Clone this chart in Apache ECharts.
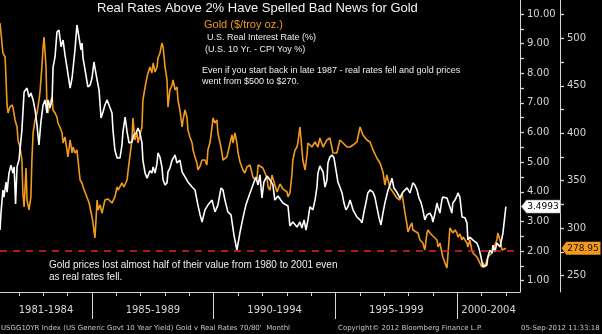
<!DOCTYPE html>
<html><head><meta charset="utf-8">
<script src="https://cdn.jsdelivr.net/npm/echarts@6/dist/echarts.min.js"></script>
<style>html,body{margin:0;padding:0;background:#000}#c{width:602px;height:334px}</style>
</head><body><div id="c"></div>
<script>
// ---- data (decimal year, value) ----
const rateData = [
[1981.22,2.71],[1981.26,3.28],[1981.34,4.06],[1981.38,3.82],[1981.47,4.33],[1981.51,3.99],[1981.59,4.63],[1981.67,4.90],[1981.75,4.63],[1981.80,4.84],[1981.86,3.59],[1981.92,4.84],[1982.00,5.07],[1982.12,6.09],[1982.21,7.37],[1982.33,7.50],[1982.41,7.20],[1982.49,7.33],[1982.58,7.10],[1982.66,6.76],[1982.74,6.25],[1982.82,5.58],[1982.90,6.35],[1982.99,6.93],[1983.07,7.10],[1983.15,6.66],[1983.19,7.10],[1983.27,6.83],[1983.36,7.10],[1983.40,8.21],[1983.48,8.55],[1983.56,9.39],[1983.64,9.46],[1983.73,8.89],[1983.81,9.12],[1983.89,8.62],[1983.97,8.21],[1984.05,7.77],[1984.10,7.50],[1984.18,7.84],[1984.30,8.79],[1984.38,9.63],[1984.46,9.63],[1984.55,8.79],[1984.59,9.02],[1984.63,8.52],[1984.75,7.94],[1984.83,7.54],[1984.92,7.60],[1985.00,7.84],[1985.08,8.38],[1985.12,8.18],[1985.21,7.77],[1985.29,7.43],[1985.37,6.49],[1985.45,6.69],[1985.53,6.93],[1985.62,7.10],[1985.70,7.10],[1985.82,6.66],[1985.86,6.09],[1985.94,5.41],[1986.03,5.14],[1986.15,5.14],[1986.23,5.58],[1986.27,6.02],[1986.36,6.52],[1986.44,6.02],[1986.52,5.65],[1986.64,5.68],[1986.72,5.92],[1986.81,5.98],[1986.89,6.15],[1986.97,5.98],[1987.05,5.65],[1987.09,5.07],[1987.18,4.63],[1987.26,4.46],[1987.38,4.71],[1987.46,4.63],[1987.51,4.84],[1987.59,4.63],[1987.67,4.97],[1987.71,5.31],[1987.79,5.17],[1987.87,4.84],[1987.92,4.40],[1988.00,4.23],[1988.08,4.30],[1988.12,4.67],[1988.20,4.80],[1988.29,5.07],[1988.41,5.24],[1988.49,4.97],[1988.61,5.07],[1988.70,4.67],[1988.82,4.50],[1988.94,4.33],[1989.11,4.16],[1989.23,4.06],[1989.35,3.55],[1989.44,3.22],[1989.52,2.98],[1989.64,3.39],[1989.76,3.55],[1989.93,3.72],[1990.05,3.32],[1990.17,3.55],[1990.30,4.13],[1990.38,4.06],[1990.46,3.72],[1990.58,3.32],[1990.71,3.22],[1990.83,2.54],[1990.95,2.03],[1991.08,2.64],[1991.20,3.12],[1991.32,3.55],[1991.49,3.96],[1991.61,4.23],[1991.73,4.50],[1991.82,4.23],[1991.90,4.57],[1991.98,3.79],[1992.06,4.33],[1992.19,4.53],[1992.31,4.40],[1992.43,4.23],[1992.51,3.72],[1992.64,3.86],[1992.84,3.62],[1993.05,3.52],[1993.13,2.85],[1993.25,2.98],[1993.42,2.81],[1993.54,2.98],[1993.62,2.78],[1993.71,3.05],[1993.79,2.71],[1993.87,3.05],[1993.95,3.49],[1994.07,3.39],[1994.16,3.72],[1994.24,4.16],[1994.28,4.63],[1994.36,4.87],[1994.49,4.67],[1994.57,4.16],[1994.65,4.40],[1994.69,4.97],[1994.77,5.17],[1994.86,5.24],[1994.94,5.14],[1995.02,4.74],[1995.10,4.33],[1995.18,4.16],[1995.27,3.96],[1995.35,3.62],[1995.43,3.39],[1995.51,3.49],[1995.60,3.72],[1995.72,3.39],[1995.88,3.15],[1996.01,3.05],[1996.09,2.95],[1996.17,3.32],[1996.25,3.62],[1996.33,3.96],[1996.42,4.06],[1996.54,3.99],[1996.62,3.82],[1996.70,3.49],[1996.79,3.12],[1996.87,2.88],[1996.95,3.28],[1997.03,3.62],[1997.16,4.06],[1997.24,4.23],[1997.32,4.46],[1997.40,4.13],[1997.52,3.99],[1997.65,3.79],[1997.77,3.99],[1997.94,4.13],[1998.06,3.96],[1998.18,4.30],[1998.26,4.23],[1998.35,4.06],[1998.43,3.79],[1998.51,3.65],[1998.59,3.39],[1998.67,3.05],[1998.76,3.22],[1998.88,3.28],[1998.96,3.15],[1999.00,2.98],[1999.09,3.28],[1999.17,3.62],[1999.21,3.49],[1999.29,3.28],[1999.37,3.72],[1999.41,3.82],[1999.58,3.79],[1999.70,3.49],[1999.78,3.28],[1999.82,3.62],[1999.91,3.72],[1999.99,3.86],[2000.03,3.96],[2000.11,3.82],[2000.20,3.15],[2000.32,3.12],[2000.40,2.95],[2000.44,2.37],[2000.52,2.47],[2000.65,2.37],[2000.81,2.27],[2000.89,2.10],[2000.97,1.83],[2001.06,1.46],[2001.14,1.43],[2001.22,1.53],[2001.26,1.80],[2001.34,2.03],[2001.43,1.93],[2001.47,2.20],[2001.55,1.97],[2001.63,2.27],[2001.76,2.14],[2001.84,2.20],[2001.88,2.61],[2002.00,3.4993]
];
const goldData = [
[1981.22,516.1],[1981.34,484.5],[1981.43,480.3],[1981.51,429.8],[1981.55,421.3],[1981.63,427.6],[1981.71,429.8],[1981.75,427.6],[1981.84,414.0],[1981.92,406.6],[1981.96,392.9],[1982.04,385.5],[1982.12,371.8],[1982.16,337.1],[1982.21,322.3],[1982.29,363.4],[1982.33,329.7],[1982.41,319.2],[1982.49,332.9],[1982.53,371.8],[1982.58,400.3],[1982.66,414.0],[1982.74,421.3],[1982.78,427.6],[1982.86,442.4],[1982.94,469.8],[1982.99,490.8],[1983.03,501.4],[1983.11,469.8],[1983.15,426.6],[1983.19,421.3],[1983.27,431.9],[1983.36,438.2],[1983.40,424.5],[1983.48,421.3],[1983.56,417.1],[1983.60,410.8],[1983.68,406.6],[1983.77,400.3],[1983.81,389.7],[1983.89,396.1],[1983.97,382.4],[1984.01,375.0],[1984.10,392.9],[1984.18,379.2],[1984.22,385.5],[1984.30,379.2],[1984.38,382.4],[1984.51,350.8],[1984.59,347.6],[1984.63,343.4],[1984.79,332.9],[1984.88,326.5],[1985.00,311.8],[1985.04,305.5],[1985.12,289.7],[1985.21,329.7],[1985.25,319.2],[1985.33,324.4],[1985.41,316.0],[1985.53,329.7],[1985.66,330.8],[1985.82,326.5],[1985.94,332.9],[1986.03,343.4],[1986.07,340.2],[1986.23,347.6],[1986.31,343.4],[1986.44,350.8],[1986.52,368.7],[1986.64,392.9],[1986.68,416.1],[1986.76,392.9],[1986.85,400.3],[1986.89,389.7],[1987.05,406.6],[1987.09,435.0],[1987.18,448.7],[1987.26,459.2],[1987.30,463.5],[1987.38,469.8],[1987.46,463.5],[1987.51,474.0],[1987.59,464.5],[1987.67,469.8],[1987.71,479.2],[1987.79,484.5],[1987.87,495.0],[1987.92,490.8],[1988.00,469.8],[1988.08,456.1],[1988.12,427.6],[1988.20,445.6],[1988.29,450.8],[1988.33,456.1],[1988.41,445.6],[1988.49,448.7],[1988.53,435.0],[1988.61,424.5],[1988.70,406.6],[1988.74,414.0],[1988.82,424.5],[1988.90,417.1],[1988.94,403.4],[1989.02,396.1],[1989.11,389.7],[1989.15,382.4],[1989.23,375.0],[1989.31,368.7],[1989.35,361.3],[1989.44,365.5],[1989.52,371.8],[1989.64,371.8],[1989.72,366.6],[1989.76,382.4],[1989.85,390.8],[1989.93,406.6],[1989.97,416.1],[1990.05,410.8],[1990.13,414.0],[1990.17,400.3],[1990.26,389.7],[1990.34,379.2],[1990.38,371.8],[1990.54,375.0],[1990.67,389.7],[1990.75,398.2],[1990.79,389.7],[1990.87,400.3],[1990.95,389.7],[1991.00,379.2],[1991.08,369.7],[1991.20,361.3],[1991.28,358.1],[1991.36,364.5],[1991.49,366.6],[1991.61,353.9],[1991.69,350.8],[1991.78,352.9],[1991.82,366.6],[1991.90,364.5],[1992.02,363.4],[1992.19,352.9],[1992.23,343.4],[1992.31,340.2],[1992.39,356.0],[1992.43,353.9],[1992.51,345.5],[1992.60,338.1],[1992.72,346.6],[1992.84,341.3],[1993.01,338.1],[1993.05,332.9],[1993.13,337.1],[1993.21,356.0],[1993.25,371.8],[1993.34,382.4],[1993.42,385.5],[1993.46,390.8],[1993.54,406.6],[1993.62,408.7],[1993.66,371.8],[1993.75,361.3],[1993.83,377.1],[1993.87,389.7],[1993.95,390.8],[1994.03,385.5],[1994.16,390.8],[1994.28,385.5],[1994.36,395.0],[1994.49,385.5],[1994.65,392.9],[1994.77,395.0],[1994.90,379.2],[1995.06,379.2],[1995.18,392.9],[1995.31,389.7],[1995.47,385.5],[1995.60,385.5],[1995.72,387.6],[1995.88,390.8],[1996.01,406.6],[1996.09,405.5],[1996.13,398.2],[1996.29,392.9],[1996.42,390.8],[1996.54,382.4],[1996.70,373.9],[1996.83,368.7],[1996.95,359.2],[1997.03,345.5],[1997.11,356.0],[1997.24,342.3],[1997.36,338.1],[1997.52,331.8],[1997.65,329.7],[1997.73,337.1],[1997.85,317.1],[1997.94,303.4],[1997.98,296.0],[1998.06,301.3],[1998.14,305.5],[1998.18,298.1],[1998.26,300.2],[1998.39,295.0],[1998.47,287.6],[1998.59,284.4],[1998.67,277.1],[1998.76,295.0],[1998.80,298.1],[1998.88,295.0],[1999.00,291.8],[1999.17,287.6],[1999.21,280.2],[1999.29,284.4],[1999.41,269.7],[1999.50,263.4],[1999.58,258.1],[1999.62,256.0],[1999.70,300.2],[1999.78,298.1],[1999.82,295.0],[1999.91,298.1],[1999.99,295.0],[2000.03,290.7],[2000.11,293.9],[2000.20,287.6],[2000.24,290.7],[2000.40,284.4],[2000.44,280.2],[2000.52,287.6],[2000.60,277.1],[2000.65,273.9],[2000.81,269.7],[2000.93,263.4],[2001.01,259.2],[2001.06,263.4],[2001.14,259.2],[2001.22,266.5],[2001.26,269.7],[2001.34,271.8],[2001.43,273.9],[2001.47,277.1],[2001.55,279.2],[2001.63,287.6],[2001.67,295.0],[2001.76,287.6],[2001.84,277.1],[2001.88,279.2],[2002.00,278.95]
];
const periodLabels = ['1981-1984','1985-1989','1990-1994','1995-1999','2000-2004'];
const periodBreaks = [1985,1990,1995,2000];
const yearTicks = [1982,1983,1984,1985,1986,1987,1988,1989,1990,1991,1992,1993,1994,1995,1996,1997,1998,1999,2000,2001,2002];
const rateLabels = [1,2,3,4,5,6,7,8,9,10];
const rateMinorTicks = [1,1.5,2,2.5,3,3.5,4,4.5,5,5.5,6,6.5,7,7.5,8,8.5,9,9.5,10];
const goldLabels = [250,300,350,400,450,500];
const goldTicksAll = [250,275,300,325,350,375,400,425,450,475,500,525];
const lastRate = 3.4993;
const lastGold = 278.95;
const thresholdRate = 2;

// ---- axis ranges ----
const xMin = 1981.22, xMax = 2002.58;
const rateMin = 0.6175, rateMax = 10.4725;
const goldMin = 232.8, goldMax = 540.33;

const edges = [xMin].concat(periodBreaks, [xMax]);
const periodCenters = periodLabels.map((_, i) => (edges[i] + edges[i + 1]) / 2);

const AX = '#d6d6d6';
const GOLD = '#f29a1e';
const axisFont = { color: AX, fontSize: 10, fontFamily: 'DejaVu Sans' };
const TAG = 'path://M0,6 L5,0 L40,0 L40,12 L5,12 Z';

const chart = echarts.init(document.getElementById('c'), null, { renderer: 'canvas' });
chart.setOption({
  backgroundColor: '#000',
  animation: false,
  grid: { left: 0, right: 82, top: 0, bottom: 42, containLabel: false },
  xAxis: [
    { type: 'value', min: xMin, max: xMax, splitLine: { show: false },
      axisLine: { show: true, lineStyle: { color: AX, width: 1 } },
      axisTick: { show: true, length: 4, customValues: yearTicks, lineStyle: { color: AX } },
      axisLabel: { show: false } },
    { type: 'value', min: xMin, max: xMax, position: 'bottom', splitLine: { show: false },
      axisLine: { show: false },
      axisTick: { show: true, length: 27, customValues: periodBreaks, lineStyle: { color: AX } },
      axisLabel: Object.assign({ show: true, margin: 13, customValues: periodCenters,
        formatter: v => { let best = 0; periodCenters.forEach((c, i) => { if (Math.abs(c - v) < Math.abs(periodCenters[best] - v)) best = i; }); return periodLabels[best]; } }, axisFont) }
  ],
  yAxis: [
    { type: 'value', position: 'right', min: rateMin, max: rateMax, splitLine: { show: false },
      axisLine: { show: true, lineStyle: { color: AX } },
      axisTick: { show: true, inside: false, length: 4, customValues: rateMinorTicks, lineStyle: { color: AX, width: 1.3 } },
      axisLabel: Object.assign({ margin: 7, customValues: rateLabels, formatter: v => v.toFixed(2) }, axisFont) },
    { type: 'value', position: 'right', offset: 40, min: goldMin, max: goldMax, splitLine: { show: false },
      axisLine: { show: true, lineStyle: { color: AX } },
      axisTick: { show: true, inside: false, length: 4, customValues: goldTicksAll, lineStyle: { color: AX, width: 1.3 } },
      axisLabel: Object.assign({ margin: 7, customValues: goldLabels, formatter: v => String(Math.round(v)) }, axisFont) }
  ],
  series: [
    { name: 'Gold ($/troy oz.)', type: 'line', xAxisIndex: 0, yAxisIndex: 1, data: goldData,
      showSymbol: false, symbol: 'none', lineStyle: { color: GOLD, width: 1.6 }, z: 2,
      markPoint: { symbol: TAG, symbolKeepAspect: false,
        symbolSize: [39, 13], symbolOffset: [61, 0], silent: true,
        itemStyle: { color: GOLD },
        label: { show: true, position: 'inside', offset: [2, 0], color: '#1a1000', fontSize: 9, fontFamily: 'DejaVu Sans', formatter: () => lastGold.toFixed(2) },
        data: [{ coord: [xMax, lastGold] }] } },
    { name: 'U.S. Real Interest Rate (%)', type: 'line', xAxisIndex: 0, yAxisIndex: 0, data: rateData,
      showSymbol: false, symbol: 'none', lineStyle: { color: '#ffffff', width: 1.6 }, z: 3,
      markLine: { silent: true, symbol: 'none', label: { show: false },
        lineStyle: { color: '#e3261e', type: [7, 6], width: 1.6 },
        data: [{ yAxis: thresholdRate }] },
      markPoint: { symbol: TAG, symbolKeepAspect: false,
        symbolSize: [39, 13], symbolOffset: [21, 0], silent: true,
        itemStyle: { color: '#ffffff', borderColor: '#999', borderWidth: 0.5 },
        label: { show: true, position: 'inside', offset: [2, 0], color: '#000', fontSize: 9, fontFamily: 'DejaVu Sans', formatter: () => String(lastRate) },
        data: [{ coord: [xMax, lastRate] }] } }
  ],
  graphic: [
    { type: 'text', x: 97, y: 8.5, style: { text: 'Real Rates Above 2% Have Spelled Bad News for Gold', fill: '#f2f2f2', font: '13px "Liberation Sans"', verticalAlign: 'middle' } },
    { type: 'text', x: 204, y: 24.5, style: { text: 'Gold ($/troy oz.)', fill: GOLD, font: '11px "Liberation Sans"', verticalAlign: 'middle' } },
    { type: 'text', x: 207, y: 37.5, style: { text: 'U.S. Real Interest Rate (%)', fill: '#eeeeee', font: '9px "Liberation Sans"', verticalAlign: 'middle' } },
    { type: 'text', x: 205, y: 50, style: { text: '(U.S. 10 Yr. - CPI Yoy %)', fill: '#eeeeee', font: '9px "Liberation Sans"', verticalAlign: 'middle' } },
    { type: 'text', x: 202, y: 71, style: { text: 'Even if you start back in late 1987 - real rates fell and gold prices', fill: '#eeeeee', font: '9px "Liberation Sans"', verticalAlign: 'middle' } },
    { type: 'text', x: 202, y: 81.5, style: { text: 'went from $500 to $270.', fill: '#eeeeee', font: '9px "Liberation Sans"', verticalAlign: 'middle' } },
    { type: 'text', x: 49, y: 265, style: { text: 'Gold prices lost almost half of their value from 1980 to 2001 even', fill: '#eeeeee', font: '10px "Liberation Sans"', verticalAlign: 'middle' } },
    { type: 'text', x: 49, y: 277, style: { text: 'as real rates fell.', fill: '#eeeeee', font: '10px "Liberation Sans"', verticalAlign: 'middle' } },
    { type: 'text', x: 1, y: 328, style: { text: "USGG10YR Index (US Generic Govt 10 Year Yield) Gold v Real Rates 70/80'  Monthl", fill: '#c8c8c8', font: '7px "DejaVu Sans"', verticalAlign: 'middle' } },
    { type: 'text', x: 338, y: 328, style: { text: 'Copyright\u00a9 2012 Bloomberg Finance L.P.', fill: '#c8c8c8', font: '7px "DejaVu Sans"', verticalAlign: 'middle' } },
    { type: 'text', x: 521, y: 328, style: { text: '05-Sep-2012 11:33:18', fill: '#c8c8c8', font: '7px "DejaVu Sans"', verticalAlign: 'middle' } }
  ]
});
</script></body></html>
